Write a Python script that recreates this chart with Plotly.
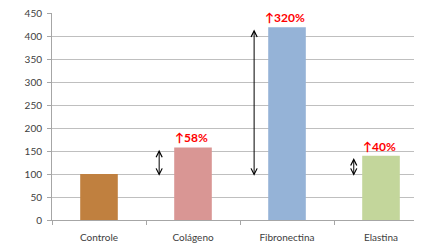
import plotly.graph_objects as go

categories = ["Controle", "Colágeno", "Fibronectina", "Elastina"]
values = [100, 158, 420, 140]
colors = ["#C0803F", "#D99694", "#95B3D7", "#C3D69B"]
increase_labels = [None, "↑58%", "↑320%", "↑40%"]
baseline = 100
y_ticks = [0, 50, 100, 150, 200, 250, 300, 350, 400, 450]

fig = go.Figure()
fig.add_trace(go.Bar(x=categories, y=values, marker=dict(color=colors, line=dict(width=0)),
                     width=0.4, showlegend=False))

arrow_offsets = [None, -0.36, -0.35, -0.29]
for i, cat in enumerate(categories):
    if increase_labels[i] is None:
        continue
    fig.add_annotation(x=cat, y=values[i], text=increase_labels[i], showarrow=False,
                       yanchor="bottom", yshift=0, xshift=-2,
                       font=dict(family="Lato", size=12, color="#FF0000", weight="bold"))
    xa = i + arrow_offsets[i]
    fig.add_annotation(x=xa, y=values[i] - 5, ax=xa, ay=baseline - 7,
                       xref="x", yref="y", axref="x", ayref="y",
                       text="", showarrow=True, arrowhead=5, startarrowhead=5,
                       arrowside="end+start", arrowsize=1.2, startarrowsize=1.2,
                       arrowwidth=1, arrowcolor="#000000")

# page body has an 8px margin, so the figure is offset by 8px
fig.update_layout(
    width=414, height=235,
    margin=dict(l=44, r=0, t=5, b=23),
    paper_bgcolor="white", plot_bgcolor="white",
    bargap=0.6,
    font=dict(family="Lato", size=10, color="#404040"),
)
fig.update_xaxes(range=[-0.5, 3.436], showline=True, linecolor="#A6A6A6", linewidth=1,
                 ticks="outside", tickson="boundaries", ticklen=4, tickcolor="#A6A6A6",
                 showgrid=False, tickfont=dict(size=10), ticklabelstandoff=8,
                 automargin=False)
fig.update_yaxes(range=[0, 451], tickvals=y_ticks, showline=True, linecolor="#A6A6A6",
                 linewidth=1, ticks="outside", ticklen=4, tickcolor="#A6A6A6",
                 showgrid=True, gridcolor="#BFBFBF", gridwidth=1, zeroline=False,
                 tickfont=dict(size=10), ticklabelstandoff=3, automargin=False,
                 ticklabeloverflow="allow")

fig.write_html("out.html")
